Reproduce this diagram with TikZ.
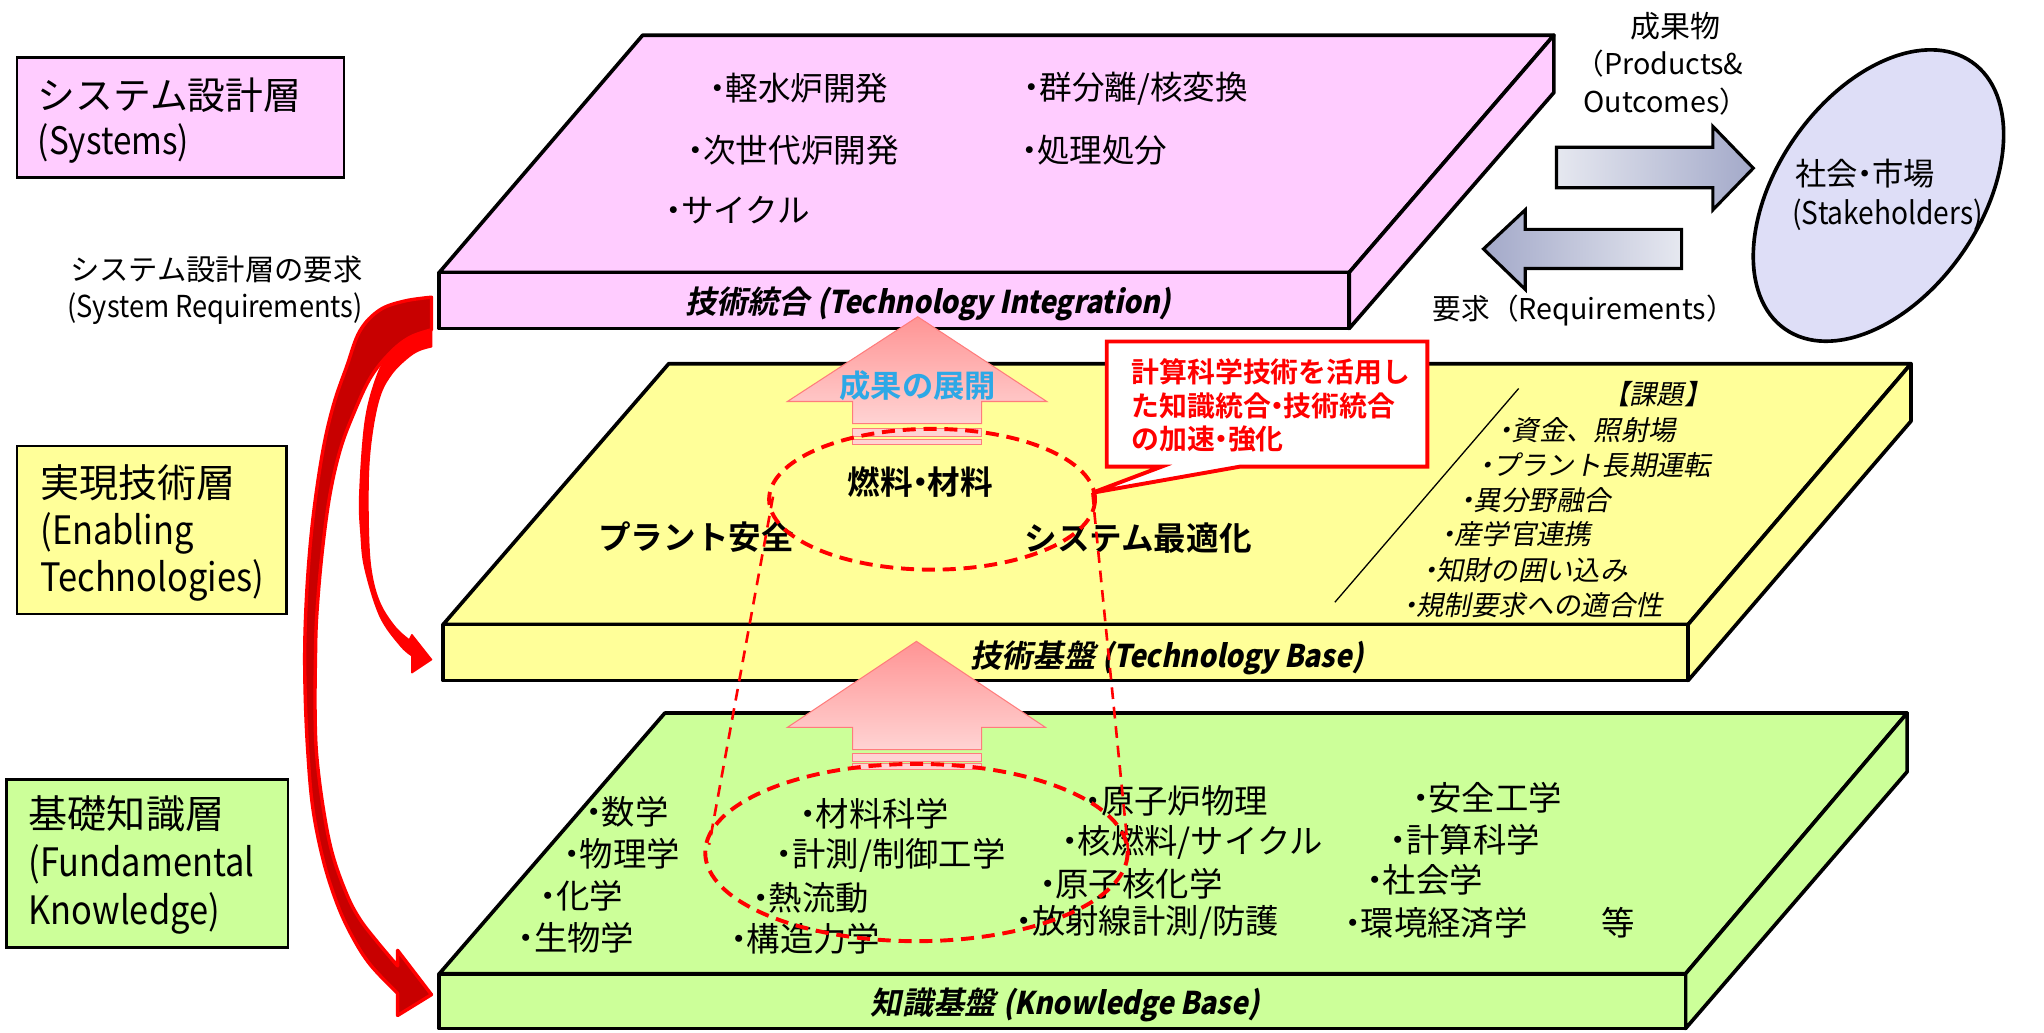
\documentclass[tikz,border=0pt]{standalone}
\usepackage{fontspec}
\setmainfont{Noto Sans CJK JP}[
  BoldFont={Noto Sans CJK JP Bold},
  ItalicFont={Noto Sans CJK JP},
  ItalicFeatures={FakeSlant=0.2},
  BoldItalicFont={Noto Sans CJK JP Bold},
  BoldItalicFeatures={FakeSlant=0.2}]
\newfontfamily\latn{Noto Sans CJK JP}[FakeStretch=0.9]
\newfontfamily\latbox{Noto Sans CJK JP}[FakeStretch=0.88]
\newfontfamily\latbi{Noto Sans CJK JP Bold}[FakeStretch=0.9,FakeSlant=0.2]
\definecolor{pinkF}{HTML}{FFCCFF}
\definecolor{yelF}{HTML}{FFFF99}
\definecolor{grnF}{HTML}{CCFF99}
\definecolor{lavF}{HTML}{DEDEF7}
\definecolor{skyT}{HTML}{2DA8E6}
\definecolor{arrTop}{HTML}{FF9494}
\definecolor{arrBot}{HTML}{FFD3D3}
\definecolor{arrEdge}{HTML}{FF7C7C}
\definecolor{gryL}{HTML}{E6E8F0}
\definecolor{gryD}{HTML}{A3A9C9}
\definecolor{dkred}{HTML}{C80000}
\newcommand\dt{\kern-.27em・\kern-.27em}
\tikzset{
  lbox/.style={draw=black,line width=1pt},
  slabline/.style={draw=black,line width=1.4pt,line join=round},
  txt/.style={inner sep=0pt,outer sep=0pt},
  wtxt/.style={txt,anchor=west},
  layA/.style={wtxt,font=\fontsize{14.5}{17}\selectfont},
  layB/.style={wtxt,font=\fontsize{15}{18}\selectfont},
  reqtxt/.style={txt,font=\fontsize{11.25}{14}\selectfont},
  topitem/.style={wtxt,font=\fontsize{12.5}{15}\selectfont},
  facetxt/.style={txt,font=\bfseries\itshape\fontsize{12}{14}\selectfont},
  btxt/.style={txt,font=\bfseries\fontsize{12.5}{15}\selectfont},
  issue/.style={wtxt,font=\itshape\fontsize{10.5}{13}\selectfont},
  know/.style={wtxt,font=\fontsize{12.8}{15}\selectfont},
  sidetxt/.style={txt,font=\fontsize{11.5}{14}\selectfont},
  reddash/.style={draw=red,line width=1.5pt,dash pattern=on 5pt off 3pt},
  redline/.style={draw=red,line width=1pt,dash pattern=on 4.5pt off 3pt},
  pinkarrow/.style={top color=arrTop,bottom color=arrBot,draw=arrEdge,line width=0.4pt},
  stripe/.style={fill=arrBot,draw=arrEdge,line width=0.4pt},
}
\begin{document}
\begin{tikzpicture}[x=0.5pt,y=-0.5pt]
\useasboundingbox (0,0) rectangle (1568,792);

% ---------- left layer labels ----------
\path[lbox,fill=pinkF] (13,44) rectangle (264,136);
\node[layA] (L1a) at (29,73) {システム設計層};
\node[layA] (L1b) at (29,110) {\latbox (Systems)};
\path[lbox,fill=yelF] (13,342) rectangle (220,471);
\node[layB] (L2a) at (31,370) {実現技術層};
\node[layB] (L2b) at (31,409) {\latbox (Enabling};
\node[layB] (L2c) at (31,445) {\latbox Technologies)};
\path[lbox,fill=grnF] (5,598) rectangle (221,727);
\node[layB] (L3a) at (22,624) {基礎知識層};
\node[layB] (L3b) at (22,663) {\latbox (Fundamental};
\node[layB] (L3c) at (22,701) {\latbox Knowledge)};

\node[reqtxt] (R1) at (166,207) {システム設計層の要求};
\node[txt,font=\fontsize{11.6}{14}\selectfont] (R2) at (165,237) {\latn (System Requirements)};

% ---------- slabs ----------
\path[slabline,fill=pinkF] (337,209) -- (493,27) -- (1192,27) -- (1035,209) -- cycle;
\path[slabline,fill=pinkF] (1035,209) -- (1192,27) -- (1192,71) -- (1035,252) -- cycle;
\path[slabline,fill=pinkF] (337,209) rectangle (1035,252);
\path[slabline,fill=yelF] (340,479) -- (513,279) -- (1466,279) -- (1295,479) -- cycle;
\path[slabline,fill=yelF] (1295,479) -- (1466,279) -- (1466,323) -- (1295,522) -- cycle;
\path[slabline,fill=yelF] (340,479) rectangle (1295,522);
\path[slabline,fill=grnF] (337,747) -- (510,547) -- (1463,547) -- (1293,747) -- cycle;
\path[slabline,fill=grnF] (1293,747) -- (1463,547) -- (1463,592) -- (1293,789) -- cycle;
\path[slabline,fill=grnF] (337,747) rectangle (1293,789);

% ---------- pink slab texts ----------
\node[topitem] (S1) at (545,68) {\dt 軽水炉開発};
\node[topitem] (S2) at (528,115) {\dt 次世代炉開発};
\node[topitem] (S3) at (511,161) {\dt サイクル};
\node[topitem] (S4) at (786,68) {\dt 群分離/核変換};
\node[topitem] (S5) at (784,115) {\dt 処理処分};
\node[facetxt] (F1) at (712,233) {技術統合 {\latbi (Technology Integration)}};

% ---------- yellow slab texts ----------
\node[btxt] (Y1) at (706,370) {燃料\dt 材料};
\node[btxt] (Y2) at (534,412) {プラント安全};
\node[btxt] (Y3) at (873,413) {システム最適化};
\node[facetxt] (F2) at (895,505) {技術基盤 {\latbi (Technology Base)}};
\node[txt,font=\itshape\fontsize{10.5}{13}\selectfont] (K0) at (1271,302) {【課題】};
\node[issue] (K1) at (1150,330) {\dt 資金、照射場};
\node[issue] (K2) at (1135,357) {\dt プラント長期運転};
\node[issue] (K3) at (1121,384) {\dt 異分野融合};
\node[issue] (K4) at (1106,410) {\dt 産学官連携};
\node[issue] (K5) at (1092,437) {\dt 知財の囲い込み};
\node[issue] (K6) at (1077,464) {\dt 規制要求への適合性};
\coordinate (dgA) at (1165,298);
\coordinate (dgB) at (1024,462);
\draw[line width=0.5pt] (dgA) -- (dgB);

% ---------- green slab texts ----------
\node[know] (G1) at (450,623) {\dt 数学};
\node[know] (G2) at (433,655) {\dt 物理学};
\node[know] (G3) at (415,687) {\dt 化学};
\node[know] (G4) at (398,719) {\dt 生物学};
\node[know] (G5) at (614,624) {\dt 材料科学};
\node[know] (G6) at (596,656) {\dt 計測/制御工学};
\node[know] (G7) at (578,689) {\dt 熱流動};
\node[know] (G8) at (561,720) {\dt 構造力学};
\node[know] (G9) at (833,614) {\dt 原子炉物理};
\node[know] (G10) at (815,646) {\dt 核燃料/サイクル};
\node[know] (G11) at (798,678) {\dt 原子核化学};
\node[know] (G12) at (780,708) {\dt 放射線計測/防護};
\node[know] (G13) at (1084,612) {\dt 安全工学};
\node[know] (G14) at (1067,644) {\dt 計算科学};
\node[know] (G15) at (1049,675) {\dt 社会学};
\node[know] (G16) at (1032,708) {\dt 環境経済学};
\node[txt,font=\fontsize{12.8}{15}\selectfont] (G17) at (1241,708) {等};
\node[facetxt] (F3) at (817,771) {知識基盤 {\latbi (Knowledge Base)}};

% ---------- pink block arrows ----------
\path[pinkarrow] (704,243) -- (803,308) -- (753,308) -- (753,325) -- (654,325) -- (654,308) -- (604,308) -- cycle;
\path[stripe] (654,329) rectangle (753,335);
\path[stripe] (654,337) rectangle (753,341);
\node[txt,text=skyT,font=\bfseries\fontsize{12}{14}\selectfont] (UP) at (704,296) {成果の展開};
\path[pinkarrow] (703,492) -- (802,558) -- (753,558) -- (753,575) -- (654,575) -- (654,558) -- (604,558) -- cycle;
\path[stripe] (654,578) rectangle (753,584);
\path[stripe] (654,586) rectangle (753,590);

% ---------- dashed ellipses and cone ----------
\coordinate (eTop) at (715,383);
\coordinate (eBot) at (703,654);
\coordinate (cL1) at (593,381);
\coordinate (cL2) at (544,648);
\coordinate (cR1) at (838,378);
\coordinate (cR2) at (866,658);
\draw[reddash] (eTop) ellipse [x radius=125, y radius=54];
\draw[reddash] (eBot) ellipse [x radius=162, y radius=68];
\draw[redline] (cL1) -- (cL2);
\draw[redline] (cR1) -- (cR2);

% ---------- callout ----------
\path[draw=red,line width=1.5pt,fill=white,line join=miter]
  (849,262) -- (1095,262) -- (1095,358) -- (951,358) -- (cR1) -- (891,358) -- (849,358) -- cycle;
\node[txt,anchor=west,align=left,text=red,font=\bfseries\fontsize{10.7}{12.9}\selectfont] (CT) at (868,311)
  {計算科学技術を活用し\\た知識統合\dt 技術統合\\の加速\dt 強化};

% ---------- red curved arrows ----------
\path[fill=dkred,draw=red,line width=1.3pt,line join=round]
  plot[smooth,tension=0.6] coordinates {(331,228) (310,231) (291,238) (276,254) (266,281) (256,310) (248,344) (241,390) (236.5,436) (234,485) (234,528) (236,575) (240,620) (248,660) (258.5,693) (270,718) (284,740) (305,762)}
  -- (305,779) -- (331,763) -- (305,729) -- (305,741)
  -- plot[smooth,tension=0.6] coordinates {(305,741) (289,722) (276,705) (266,686) (255,655) (248,620) (243,580) (241.7,546) (242,505) (243,472) (247,425) (253,380) (261,345) (271,318) (284,290) (299,271) (314,259) (331,253)}
  -- cycle;
\path[fill=red,draw=red,line width=0.6pt,line join=round]
  plot[smooth,tension=0.6] coordinates {(331,253) (312,261) (298,272) (288,292) (280,325) (276,380) (277,410) (280,436) (291.5,472.6) (307,495) (316,503)}
  -- (316,516) -- (331,506) -- (316,487) -- (314,491)
  -- plot[smooth,tension=0.6] coordinates {(314,491) (303,481) (291.5,463) (285,440) (282.6,410) (282.6,362) (286,328) (292,302) (301,286) (312,275) (321,269) (331,266)}
  -- cycle;

% ---------- stakeholders ----------
\draw[fill=lavF,line width=1.4pt,rotate around={55:(1441,150)}] (1441,150) ellipse [x radius=125, y radius=78];
\node[wtxt,font=\fontsize{12}{14}\selectfont] (SH1) at (1377,133) {社会\dt 市場};
\node[wtxt,font=\fontsize{12}{14}\selectfont] (SH2) at (1375,165) {\latn (Stakeholders)};

\draw[line width=1.2pt,left color=gryL,right color=gryD]
  (1194,113) -- (1314,113) -- (1314,97) -- (1345,129) -- (1314,161) -- (1314,144) -- (1194,144) -- cycle;
\draw[line width=1.2pt,left color=gryD,right color=gryL]
  (1290,176) -- (1170,176) -- (1170,161) -- (1138,191) -- (1170,222) -- (1170,206) -- (1290,206) -- cycle;
\node[sidetxt] (P1) at (1285,20) {成果物};
\node[txt,font=\fontsize{11}{13}\selectfont] (P2) at (1273,49) {（Products\&};
\node[txt,font=\fontsize{11}{13}\selectfont] (P3) at (1278,78) {Outcomes）};
\node[txt,font=\fontsize{11}{13}\selectfont] (Q1) at (1215,238) {要求（Requirements）};
\end{tikzpicture}
\end{document}
